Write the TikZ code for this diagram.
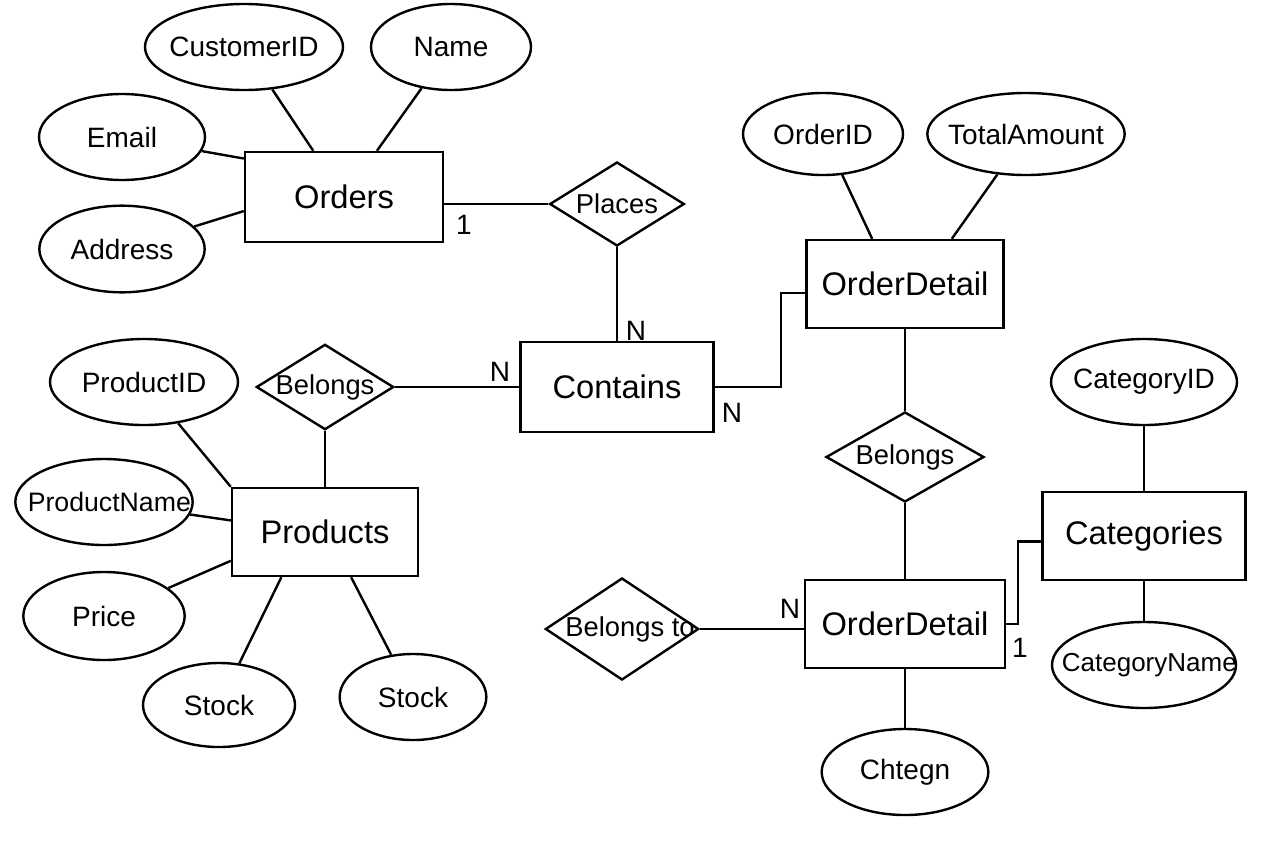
\documentclass[tikz,border=0pt]{standalone}
\usepackage{fontspec}
\setmainfont{Liberation Sans}
\usetikzlibrary{shapes.geometric}
\newcommand{\overtext}[1]{\makebox[0pt]{#1}}

\begin{document}
\begin{tikzpicture}[x=0.75pt,y=0.75pt,yscale=-1,xscale=1,line width=1.8pt,
  entity/.style={draw, rectangle, inner sep=0pt, minimum height=66pt, font=\fontsize{24.5}{29}\selectfont},
  attr/.style={draw, ellipse, inner sep=0pt, minimum height=64.5pt, font=\fontsize{21}{25}\selectfont},
  relation/.style={draw, diamond, inner sep=0pt, font=\fontsize{20.5}{25}\selectfont},
  card/.style={inner sep=0pt, font=\fontsize{21}{25}\selectfont}]
%uncomment if require: \path (0,853); %set diagram left start at 0, and has height of 853
\useasboundingbox (0,0) rectangle (1280,853);
\fill[white] (0,0) rectangle (1280,853);
%Shape: Rectangle [id:orders]
\node[entity, minimum width=148.5pt, minimum height=67.5pt] (orders) at (344,197) {Orders};
%Shape: Rectangle [id:contains]
\node[entity, minimum width=145pt, minimum height=67.5pt] (contains) at (617,387) {Contains};
%Shape: Rectangle [id:odtop]
\node[entity, minimum width=148pt] (odtop) at (905,284) {OrderDetail};
%Shape: Rectangle [id:products]
\node[entity, minimum width=139.5pt] (products) at (325,532) {Products};
%Shape: Rectangle [id:odbottom]
\node[entity, minimum width=150pt] (odbottom) at (905,624) {OrderDetail};
%Shape: Rectangle [id:categories]
\node[entity, minimum width=152pt] (categories) at (1144,536) {Categories};
%Shape: Ellipse [id:customerid]
\node[attr, minimum width=148.5pt] (customerid) at (244,47) {\overtext{CustomerID}};
%Shape: Ellipse [id:name]
\node[attr, minimum width=120pt] (name) at (451,47) {\overtext{Name}};
%Shape: Ellipse [id:email]
\node[attr, minimum width=124.5pt] (email) at (122,137) {\overtext{Email}};
%Shape: Ellipse [id:address]
\node[attr, minimum width=124pt, minimum height=65pt] (address) at (122,249) {\overtext{Address}};
%Shape: Ellipse [id:productid]
\node[attr, minimum width=141pt] (productid) at (144,382) {\overtext{ProductID}};
%Shape: Ellipse [id:productname]
\node[attr, minimum width=133pt] (productname) at (104,502) {\overtext{\hspace{8pt}\fontsize{20}{24}\selectfont ProductName}};
%Shape: Ellipse [id:price]
\node[attr, minimum width=121pt, minimum height=66pt] (price) at (104,616) {\overtext{Price}};
%Shape: Ellipse [id:stockleft]
\node[attr, minimum width=114pt, minimum height=63pt] (stockleft) at (219,705) {\overtext{Stock}};
%Shape: Ellipse [id:stockright]
\node[attr, minimum width=110pt] (stockright) at (413,697) {\overtext{Stock}};
%Shape: Ellipse [id:orderid]
\node[attr, minimum width=120pt, minimum height=61.5pt] (orderid) at (823,134) {\overtext{OrderID}};
%Shape: Ellipse [id:totalamount]
\node[attr, minimum width=148pt, minimum height=61.5pt] (totalamount) at (1026,134) {\overtext{TotalAmount}};
%Shape: Ellipse [id:categoryid]
\node[attr, minimum width=139.5pt] (categoryid) at (1144,382) {\overtext{CategoryID}};
%Shape: Ellipse [id:categoryname]
\node[attr, minimum width=138pt] (categoryname) at (1144,665) {\overtext{\hspace{8pt}\fontsize{19.5}{23}\selectfont CategoryName}};
%Shape: Ellipse [id:chtegn]
\node[attr, minimum width=125pt] (chtegn) at (905,772) {\overtext{Chtegn}};
%Shape: Diamond [id:places]
\node[relation, minimum width=101pt, minimum height=63pt] (places) at (617,204) {\overtext{Places}};
%Shape: Diamond [id:belongsleft]
\node[relation, minimum width=103pt, minimum height=64pt] (belongsleft) at (325,387) {\overtext{Belongs}};
%Shape: Diamond [id:belongsright]
\node[relation, minimum width=118.5pt, minimum height=67.5pt] (belongsright) at (905,457) {\overtext{Belongs}};
%Shape: Diamond [id:belongsto]
\node[relation, minimum width=115pt, minimum height=76.5pt] (belongsto) at (622,629) {\overtext{\hspace{12pt}Belongs to}};
%Straight Lines [id:orders attributes]
\draw (customerid) -- (orders);
\draw (name) -- (orders);
\draw (email) -- (orders.159);
\draw (address) -- (orders.188);
%Straight Lines [id:orders places contains]
\draw (places.west) -- (places.west -| orders.east);
\draw (places) -- (contains);
\draw (belongsleft) -- (contains);
\draw (belongsleft) -- (products);
%Straight Lines [id:products attributes]
\draw (productid) -- (products.north west);
\draw (productname) -- (products.173);
\draw (price) -- (products.197);
\draw (stockleft) -- (products.226);
\draw (stockright) -- (products.300);
%Straight Lines [id:orderdetail attributes]
\draw (orderid) -- (odtop.126);
\draw (totalamount) -- (odtop.44);
\draw (contains.east) -- ++(66,0) |- (odtop.185);
\draw (odtop) -- (belongsright);
\draw (belongsright) -- (odbottom);
\draw (odbottom) -- (chtegn);
\draw (odbottom.west |- belongsto) -- (belongsto.east);
\draw (odbottom.east) -- ++(12,0) |- (categories.183);
\draw (categoryid) -- (categories);
\draw (categories) -- (categoryname);
% Text Node
\node[card] (oneorders) at (464,225) {1};
% Text Node
\node[card] (nplaces) at (636,331) {N};
% Text Node
\node[card] (nbelongs) at (500,372) {N};
% Text Node
\node[card] (ncontains) at (732,413) {N};
% Text Node
\node[card] (nbelongsto) at (790,609) {N};
% Text Node
\node[card] (onecategories) at (1020,648) {1};
\end{tikzpicture}
\end{document}
